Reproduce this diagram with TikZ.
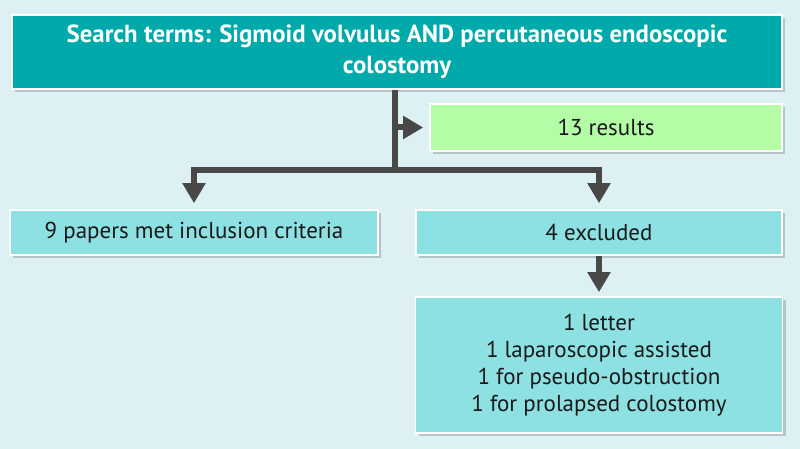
\documentclass[tikz,border=0pt]{standalone}
\usepackage{fontspec}
\setmainfont{PT Sans}
\usetikzlibrary{arrows.meta,shadows}
\definecolor{pagebg}{RGB}{221,240,244}
\definecolor{searchteal}{RGB}{0,170,170}
\definecolor{resultgreen}{RGB}{180,252,166}
\definecolor{boxcyan}{RGB}{142,225,227}
\definecolor{arrowgray}{RGB}{72,72,72}
\newcommand{\flowfont}{\fontsize{11.5}{13.5}\selectfont}
\newcommand{\searchfont}{\fontsize{12.4}{15.5}\selectfont\bfseries}

\begin{document}
\begin{tikzpicture}[
        x=1pt, y=-1pt,
        every node/.style={align=center, text=black!90, font=\flowfont},
        box/.style={rectangle, inner sep=0pt, draw=white, line width=0.8pt,
                    drop shadow={shadow xshift=1.5pt, shadow yshift=-1.5pt,
                                 fill=black, opacity=0.18}},
        topbox/.style={box, fill=searchteal, text=white, font=\searchfont},
        greenbox/.style={box, fill=resultgreen},
        cyanbox/.style={box, fill=boxcyan},
        link/.style={draw=arrowgray, line width=3pt},
        arrow/.style={link, -{Triangle[width=11pt,length=10pt]}, shorten >=3pt}
      ]

      % background and page size
      \fill[pagebg] (0,0) rectangle (400,224.5);
      \useasboundingbox (0,0) rectangle (400,224.5);

      % The boxes, placed at their centres
      \node (search) [topbox, minimum width=385pt, minimum height=37pt] at (198.5,26)
        {Search terms: Sigmoid volvulus AND percutaneous endoscopic\\colostomy};
      \node (results) [greenbox, minimum width=176pt, minimum height=23.5pt] at (303,63.75)
        {13 results};
      \node (papers) [cyanbox, minimum width=184pt, minimum height=22.5pt] at (97,116.25)
        {9 papers met inclusion criteria};
      \node (excluded) [cyanbox, minimum width=183pt, minimum height=22.5pt] at (299.5,116.25)
        {4 excluded};
      \node (reasons) [cyanbox, minimum width=183.5pt, minimum height=68pt] at (299.5,182.5)
        {1 letter\\1 laparoscopic assisted\\1 for pseudo-obstruction\\1 for prolapsed colostomy};

      % where the trunk splits in two
      \coordinate (split) at (197.5,85);

      % Connectors
      \draw[link] (search.south -| split) -- (split);
      \draw[arrow] (split |- results.west) -- (results.west);
      \draw[arrow] (split) -| (papers.north);
      \draw[arrow] (split) -| (excluded.north);
      \draw[arrow, shorten >=2pt] (excluded.south) -- (reasons.north);
    \end{tikzpicture}
\end{document}
